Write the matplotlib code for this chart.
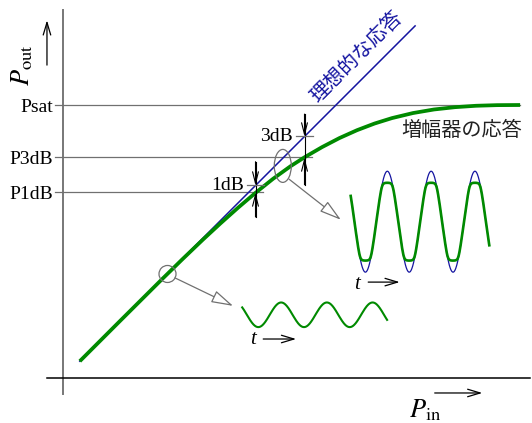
import numpy as np
import matplotlib
matplotlib.use("Agg")
import matplotlib.pyplot as plt
from matplotlib.patches import Ellipse

plt.rcParams["mathtext.fontset"] = "stix"
SERIF = ["Liberation Serif", "DejaVu Serif"]
CJK = ["Noto Sans CJK JP", "DejaVu Sans"]

# Amplifier transfer curve (dB in -> dB out)
amp_pin = [2.4, 8, 14, 17, 20, 22.5, 25, 27.5, 30, 32.5, 34.5, 37, 39.5, 42,
           44.5, 47, 50, 53, 56, 59, 62, 65.3]
amp_pout = [2.4, 8.0, 13.97, 16.91, 19.78, 22.09, 24.32, 26.45, 28.45, 30.25,
            31.53, 32.98, 34.28, 35.4, 36.35, 37.13, 37.85, 38.36, 38.69,
            38.89, 38.98, 39.0]

# Ideal (linear) response
ideal_pin = [2.4, 50.3]
ideal_pout = [2.4, 50.3]

# Characteristic output levels
level_names = ["Psat", "P3dB", "P1dB"]
level_values = [39.0, 31.5, 26.5]
level_line_end = [65.3, 35.6, 28.6]

# Compression points (input level, ideal output, real output)
comp_labels = ["1dB", "3dB"]
comp_pin = [27.5, 34.5]
comp_ideal = [27.5, 34.5]
comp_real = [26.5, 31.5]

# Small-signal waveform sketch
small_t = (25.6, 46.3)
small_center, small_amp, small_period, small_trough = 9.03, 1.76, 6.53, 27.9
# Large-signal waveform sketch
large_t = (41.1, 60.9)
large_center, large_amp, large_period, large_peak = 22.33, 7.21, 6.26, 46.33
large_clip = 5.6

BLUE = "#1414a0"
GREEN = "#008a00"
GRAY = "#707070"

fig = plt.figure(figsize=(5.32, 4.23), dpi=100)
ax = fig.add_axes([0, 0, 1, 1])
ax.set_xlim(-9, 67)
ax.set_ylim(-6.4286, 54)
ax.axis("off")

# axes
ax.plot([0, 0], [-2.29, 52.57], color="#777777", lw=1.4, zorder=1)
ax.plot([-2.29, 66.7], [0, 0], color="black", lw=1.1, zorder=1)

# level lines and labels
for name, val, xend in zip(level_names, level_values, level_line_end):
    ax.plot([-1.14, xend], [val, val], color=GRAY, lw=0.9, zorder=1)
    ax.text(-1.43, val - 0.3, name, ha="right", va="center",
            fontsize=14, family=SERIF)

# ideal and amplifier responses
ax.plot(ideal_pin, ideal_pout, color=BLUE, lw=1.1, zorder=3)
ax.plot(amp_pin, amp_pout, color=GREEN, lw=2.7, zorder=4,
        solid_capstyle="butt")

# compression markers
dim_arrow = dict(arrowstyle="->,head_length=0.55,head_width=0.14",
                 color="black", lw=0.8, shrinkA=0, shrinkB=0,
                 mutation_scale=15)
tops = [30.9, 37.7]
bottoms = [23.0, 27.6]
for lab, x, yi, yr, top, bot in zip(comp_labels, comp_pin, comp_ideal,
                                    comp_real, tops, bottoms):
    ax.plot([x, x], [bot, top], color="black", lw=0.8, zorder=5)
    ax.annotate("", xy=(x, yi), xytext=(x, top), arrowprops=dim_arrow,
                zorder=5)
    ax.annotate("", xy=(x, yr), xytext=(x, bot), arrowprops=dim_arrow,
                zorder=5)
    ax.plot([x - 1.25, x + 1.2], [yi, yi], color=GRAY, lw=0.9, zorder=5)
    ax.text(x - 1.6, yi + 0.05, lab, ha="right", va="center",
            fontsize=14, family=SERIF)

# highlight markers on the curve
ax.add_patch(Ellipse((14.93, 14.86), 2.43, 2.43, fill=False,
                     ec=GRAY, lw=0.9, zorder=6))
ax.add_patch(Ellipse((31.4, 30.3), 2.43, 4.71, fill=False,
                     ec=GRAY, lw=0.9, zorder=6))
ptr = dict(arrowstyle="-|>,head_length=0.9,head_width=0.26",
           ec=GRAY, fc="white", lw=0.9, shrinkA=0, shrinkB=0,
           mutation_scale=15)
ax.annotate("", xy=(24.3, 10.3), xytext=(16.0, 14.3), arrowprops=ptr)
ax.annotate("", xy=(39.7, 22.6), xytext=(32.3, 28.4), arrowprops=ptr)

# waveforms
ts = np.linspace(*small_t, 400)
ys = small_center - small_amp * np.cos(2 * np.pi * (ts - small_trough) / small_period)
ax.plot(ts, ys, color=GREEN, lw=1.5)

tl = np.linspace(*large_t, 600)
s = large_amp * np.cos(2 * np.pi * (tl - large_peak) / large_period)
p = 5.0
soft = s / (1 + np.abs(s / large_clip) ** (2 * p)) ** (1 / (2 * p))
ax.plot(tl, large_center + s, color=BLUE, lw=0.9)
ax.plot(tl, large_center + soft, color=GREEN, lw=1.9)

# time arrows
t_arrow = dict(arrowstyle="->,head_length=0.6,head_width=0.18",
               color="black", lw=0.9, shrinkA=0, shrinkB=0,
               mutation_scale=15)
ax.text(27.1, 5.43, "t", ha="center", va="center", fontsize=15,
        family=SERIF, style="italic")
ax.annotate("", xy=(33.3, 5.57), xytext=(28.6, 5.57), arrowprops=t_arrow)
ax.text(42.0, 13.3, "t", ha="center", va="center", fontsize=15,
        family=SERIF, style="italic")
ax.annotate("", xy=(48.1, 13.7), xytext=(43.6, 13.7), arrowprops=t_arrow)

# axis titles
ax.text(51.7, -4.6, r"$P_{\mathrm{in}}$", ha="center", va="center",
        fontsize=19)
ax.annotate("", xy=(59.9, -2.14), xytext=(53.1, -2.14), arrowprops=t_arrow)
ax.text(-5.86, 44.7, r"$P_{\mathrm{out}}$", ha="center", va="center",
        fontsize=19, rotation=90)
ax.annotate("", xy=(-2.29, 51.1), xytext=(-2.29, 44.7), arrowprops=t_arrow)

# curve labels
ax.text(42.0, 45.86, "理想的な応答", rotation=45, rotation_mode="anchor",
        ha="center", va="center", fontsize=14.5, color=BLUE, family=CJK)
ax.text(57.0, 35.4, "増幅器の応答", ha="center", va="center",
        fontsize=14.5, color="#222222", family=CJK)

fig.savefig("out.png", dpi=100)
